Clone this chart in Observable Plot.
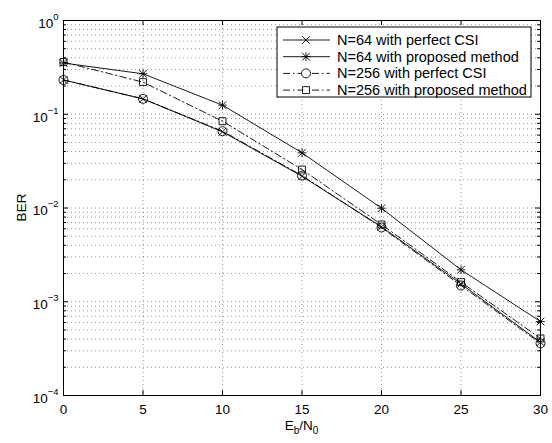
<!DOCTYPE html>
<html><head><meta charset="utf-8">
<script src="https://cdn.jsdelivr.net/npm/d3@7"></script>
<script src="https://cdn.jsdelivr.net/npm/@observablehq/plot@0.6"></script>
<style>body{margin:0;background:#fff;} #chart{width:552px;height:443px;position:relative;}</style>
</head><body><div id="chart"></div>
<script>
// ---- data ----
const snr = [0, 5, 10, 15, 20, 25, 30];
const ber64Perfect   = [0.232, 0.146, 0.065, 0.0218, 0.0063, 0.00155, 0.00037];
const ber64Proposed  = [0.352, 0.27, 0.125, 0.0388, 0.00995, 0.00219, 0.000615];
const ber256Perfect  = [0.232, 0.146, 0.066, 0.0222, 0.0062, 0.00149, 0.00036];
const ber256Proposed = [0.36, 0.22, 0.0843, 0.0257, 0.00667, 0.00162, 0.000406];
const seriesNames = ["N=64 with perfect CSI", "N=64 with proposed method", "N=256 with perfect CSI", "N=256 with proposed method"];
const xTicks = [0, 5, 10, 15, 20, 25, 30];
const yExponents = [0, -1, -2, -3, -4];
const minorMultipliers = [2, 3, 4, 5, 6, 7, 8, 9];

// ---- styles ----
const dashDot = "7,3,1.5,3";
const styles = [
  {symbols: [{s: "times", r: 3.7}], dash: null},
  {symbols: [{s: "plus", r: 2.9}, {s: "times", r: 3.6}], dash: null},
  {symbols: [{s: "circle", r: 4.5}], dash: dashDot},
  {symbols: [{s: "square", r: 3.9}], dash: dashDot}
];
const seriesValues = [ber64Perfect, ber64Proposed, ber256Perfect, ber256Proposed];
const rows = seriesValues.map((vals, i) => snr.map((x, j) => ({snr: x, ber: vals[j], series: seriesNames[i]})));

const yMajor = yExponents.map(e => Math.pow(10, e));
const yMinor = [];
for (const e of yExponents.slice(1)) for (const m of minorMultipliers) yMinor.push(m * Math.pow(10, e));

const W = 552, H = 443, mL = 63, mR = 12, mT = 20, mB = 48;
const fw = W - mL - mR, fh = H - mT - mB;
const FONT = "'Liberation Sans', Arial, Helvetica, sans-serif";
const gridStyle = {stroke: "#000", strokeOpacity: 0.42, strokeDasharray: "1,3", strokeWidth: 1};

const marks = [
  Plot.gridX(xTicks, gridStyle),
  Plot.gridY(yMajor.concat(yMinor), gridStyle),
  // inward ticks
  Plot.tickX(xTicks, {x: d => d, insetTop: fh - 5, stroke: "#000"}),
  Plot.tickX(xTicks, {x: d => d, insetBottom: fh - 5, stroke: "#000"}),
  Plot.tickY(yMajor, {y: d => d, insetRight: fw - 5, stroke: "#000"}),
  Plot.tickY(yMajor, {y: d => d, insetLeft: fw - 5, stroke: "#000"}),
  Plot.tickY(yMinor, {y: d => d, insetRight: fw - 3, stroke: "#000"}),
  Plot.tickY(yMinor, {y: d => d, insetLeft: fw - 3, stroke: "#000"}),
  Plot.axisX(xTicks, {tickSize: 0, tickPadding: 9, label: null}),
  Plot.axisY(yMajor, {tickSize: 0, tickPadding: 5, label: null,
    tickFormat: d => String(Math.round(Math.log10(d)))})
];
rows.forEach((data, i) => {
  const st = styles[i];
  marks.push(Plot.line(data, {x: "snr", y: "ber", stroke: "#000", strokeWidth: 0.9, strokeDasharray: st.dash}));
  for (const sy of st.symbols) marks.push(Plot.dot(data, {x: "snr", y: "ber", symbol: () => sy.s, r: sy.r, stroke: "#000", fill: "none", strokeWidth: 0.9}));
});
marks.push(Plot.frame({stroke: "#000", strokeWidth: 1}));

const plot = Plot.plot({
  width: W, height: H,
  marginLeft: mL, marginRight: mR, marginTop: mT, marginBottom: mB,
  style: {fontFamily: FONT, fontSize: "13.5px", background: "#fff", color: "#000"},
  x: {domain: [0, 30]},
  y: {type: "log", domain: [1e-4, 1]},
  symbol: {type: "identity"},
  marks
});
document.getElementById("chart").appendChild(plot);

const svg = d3.select(plot);
// superscript tick labels
svg.selectAll('g[aria-label="y-axis tick label"] text').each(function() {
  const t = d3.select(this);
  const e = t.text().replace("-", "\u2212");
  t.text(null);
  t.style("font-size", "13.5px");
  t.append("tspan").attr("dy", "3").text("10");
  t.append("tspan").attr("dy", "-8").style("font-size", "9.5px").text(e);
});
svg.selectAll('g[aria-label="x-axis tick label"] text').style("font-size", "13.5px");

// axis labels
const xl = svg.append("text").attr("x", mL + fw / 2).attr("y", 430).attr("text-anchor", "middle").style("font-family", FONT).style("font-size", "13.5px").attr("fill", "#000");
xl.append("tspan").text("E");
xl.append("tspan").attr("dy", 4).style("font-size", "10px").text("b");
xl.append("tspan").attr("dy", -4).text("/N");
xl.append("tspan").attr("dy", 4).style("font-size", "10px").text("0");
svg.append("text").attr("transform", `translate(26,${mT + fh / 2}) rotate(-90)`).attr("text-anchor", "middle").style("font-family", FONT).style("font-size", "13.5px").attr("fill", "#000").text("BER");

// legend box
const lg = svg.append("g");
const bx = 277, by = 27, bw = 254, bh = 70;
lg.append("rect").attr("x", bx).attr("y", by).attr("width", bw).attr("height", bh).attr("fill", "#fff").attr("stroke", "#000").attr("stroke-width", 1);
const symMap = {times: d3.symbolTimes, plus: d3.symbolPlus, circle: d3.symbolCircle, square: d3.symbolSquare};
seriesNames.forEach((name, i) => {
  const yy = by + 13 + i * 16.7;
  const st = styles[i];
  lg.append("line").attr("x1", bx + 6).attr("x2", bx + 53).attr("y1", yy).attr("y2", yy).attr("stroke", "#000").attr("stroke-width", 0.9).attr("stroke-dasharray", st.dash);
  for (const sy of st.symbols) {
    lg.append("path").attr("transform", `translate(${bx + 29},${yy})`).attr("d", d3.symbol(symMap[sy.s], sy.r * sy.r * Math.PI)()).attr("fill", sy.s === "circle" || sy.s === "square" ? "#fff" : "none").attr("stroke", "#000").attr("stroke-width", 0.9);
  }
  lg.append("text").attr("x", bx + 60).attr("y", yy).attr("dy", "0.35em").attr("text-anchor", "start").style("font-family", FONT).style("font-size", "14.5px").attr("fill", "#000").text(name);
});
</script></body></html>
